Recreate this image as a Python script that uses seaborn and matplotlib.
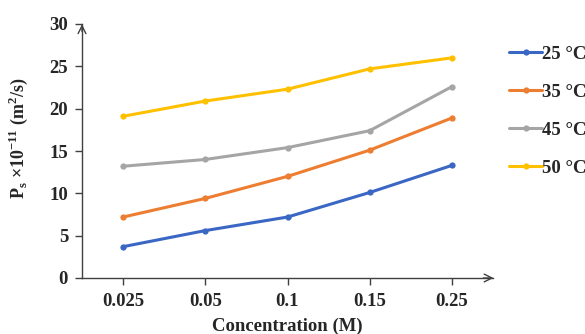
import matplotlib
matplotlib.use("Agg")
import matplotlib.pyplot as plt
import seaborn as sns
import pandas as pd

concentrations = ["0.025", "0.05", "0.1", "0.15", "0.25"]
series_names = ["25 °C", "35 °C", "45 °C", "50 °C"]
v25 = [3.7, 5.6, 7.2, 10.1, 13.3]
v35 = [7.2, 9.4, 12.0, 15.1, 18.9]
v45 = [13.2, 14.0, 15.4, 17.4, 22.6]
v50 = [19.1, 20.9, 22.3, 24.7, 26.0]
colors = ["#3A66C4", "#ED7D31", "#A5A5A5", "#FFC000"]

rows = []
for name, vals in zip(series_names, [v25, v35, v45, v50]):
    for c, v in zip(concentrations, vals):
        rows.append({"Concentration": c, "Value": v, "Series": name})
df = pd.DataFrame(rows)

sns.set_theme(style="white")
plt.rcParams['font.family'] = ['Liberation Serif', 'DejaVu Serif']
plt.rcParams['font.weight'] = 'bold'
FS = 13.5

fig = plt.figure(figsize=(5.85, 3.34), dpi=100)
ax = fig.add_axes([82/585, 1-278/334, (493-82)/585, (278-24)/334])

sns.lineplot(data=df, x="Concentration", y="Value", hue="Series",
             palette=colors, marker="o", markersize=4.5, markeredgewidth=0,
             linewidth=2.2, ax=ax, sort=False, legend=True)

ax.set_xlim(-0.5, 4.5)
ax.set_ylim(0, 30)
ax.set_yticks([0, 5, 10, 15, 20, 25, 30])
for s in ["top", "right"]:
    ax.spines[s].set_visible(False)
for s in ["left", "bottom"]:
    ax.spines[s].set_color("#404040")
    ax.spines[s].set_linewidth(1.0)
ax.tick_params(axis="both", which="both", direction="out", length=5, width=1,
               color="#404040", labelsize=FS, left=True, bottom=True, pad=5)
ax.tick_params(axis="x", pad=6)
for lab in ax.get_xticklabels() + ax.get_yticklabels():
    lab.set_fontweight("bold")

# arrowheads
ax.annotate("", xy=(0, 1.01), xytext=(0, 0.96), xycoords="axes fraction",
            arrowprops=dict(arrowstyle="->", color="#404040", lw=1.0, mutation_scale=14))
ax.annotate("", xy=(1.008, 0), xytext=(0.97, 0), xycoords="axes fraction",
            arrowprops=dict(arrowstyle="->", color="#404040", lw=1.0, mutation_scale=14))

ax.set_xlabel("Concentration (M)", fontsize=FS, fontweight="bold", labelpad=5)
ax.set_ylabel("P$_\\mathregular{s}$ ×10$^\\mathregular{-11}$ (m$^\\mathregular{2}$/s)",
              fontsize=13, fontweight="bold")
ax.yaxis.set_label_coords(-52/411, (278-138)/254)

handles, labels = ax.get_legend_handles_labels()
ax.get_legend().remove()
leg = fig.legend(handles, labels, loc="upper left", bbox_to_anchor=(502/585, 1-38/334),
                 frameon=False, fontsize=FS, labelspacing=1.12, handlelength=1.75,
                 handletextpad=0.0, borderaxespad=0)
for t in leg.get_texts():
    t.set_fontweight("bold")

fig.savefig("out.png", dpi=100)
